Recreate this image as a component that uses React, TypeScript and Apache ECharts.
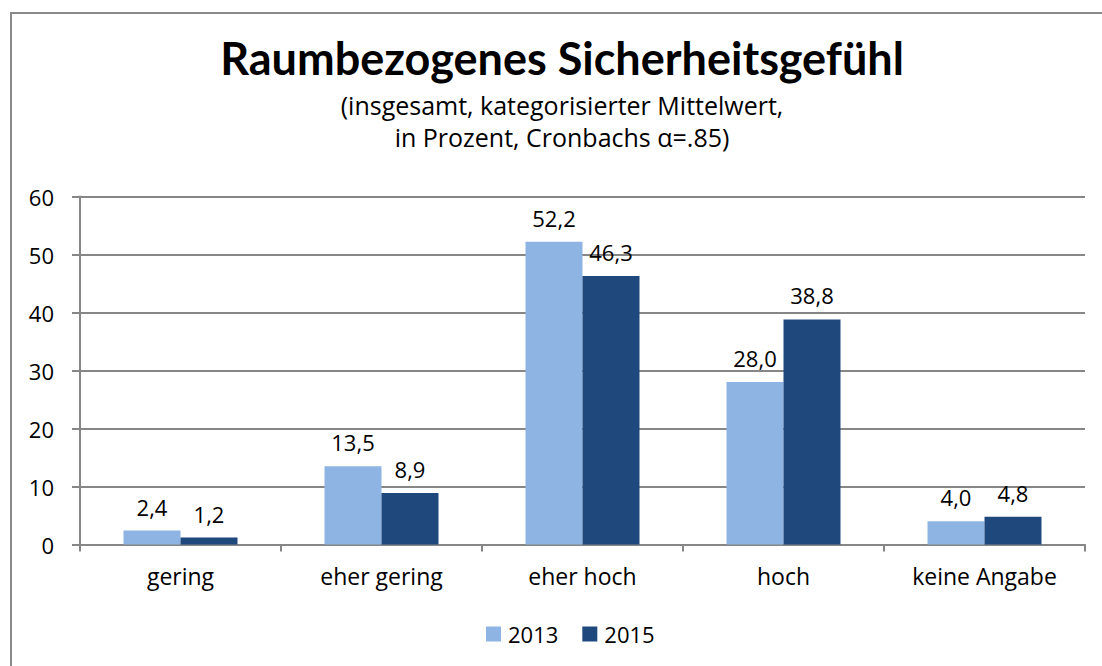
import React, { useEffect, useRef } from "react";
import * as echarts from "echarts";

const categories = ["gering", "eher gering", "eher hoch", "hoch", "keine Angabe"];
const values2013 = [2.4, 13.5, 52.2, 28.0, 4.0];
const values2015 = [1.2, 8.9, 46.3, 38.8, 4.8];
const seriesNames = ["2013", "2015"];
const titleText = "Raumbezogenes Sicherheitsgefühl";
const subText = "(insgesamt, kategorisierter Mittelwert,\nin Prozent, Cronbachs α=.85)";

const FONT = "'Open Sans', sans-serif";
const TITLE_FONT = "Lato, sans-serif";

export default function App() {
  const ref = useRef<HTMLDivElement>(null);
  useEffect(() => {
    if (!ref.current) return;
    const chart = echarts.init(ref.current, undefined, { renderer: "svg" });
    const fmt = (p: any) => Number(p.value).toFixed(1).replace(".", ",");
    const labelStyle = {
      show: true,
      position: "top",
      distance: 13,
      formatter: fmt,
      fontFamily: FONT,
      fontSize: 22,
      color: "#000",
    };
    chart.setOption({
      animation: false,
      backgroundColor: "#ffffff",
      textStyle: { fontFamily: FONT },
      title: [
        {
          text: titleText,
          left: 562,
          textAlign: "center",
          top: 35,
          padding: 0,
          textStyle: { fontFamily: TITLE_FONT, fontSize: 45, fontWeight: "bold", color: "#000", lineHeight: 46 },
        },
        {
          text: subText,
          left: 562,
          textAlign: "center",
          top: 89,
          padding: 0,
          textStyle: { fontFamily: FONT, fontSize: 25, fontWeight: "normal", color: "#000", lineHeight: 32 },
        },
      ],
      graphic: [
        {
          type: "rect",
          shape: { x: 11, y: 13, width: 1200, height: 800 },
          style: { fill: "none", stroke: "#8a8a8a", lineWidth: 2 },
          silent: true,
        },
      ],
      legend: {
        data: seriesNames,
        bottom: 16,
        left: 481,
        itemWidth: 15,
        itemHeight: 15,
        itemGap: 24,
        icon: "rect",
        textStyle: { fontFamily: FONT, fontSize: 22, color: "#000", padding: [0, 0, 0, 2] },
      },
      grid: { left: 80, right: 17, top: 196.5, bottom: 121.5 },
      xAxis: {
        type: "category",
        data: categories,
        axisLine: { lineStyle: { color: "#868686", width: 2 } },
        axisTick: { show: true, length: 7, lineStyle: { color: "#868686", width: 2 } },
        axisLabel: { fontFamily: FONT, fontSize: 23, color: "#000", margin: 20 },
      },
      yAxis: {
        type: "value",
        min: 0,
        max: 60,
        interval: 10,
        axisLine: { show: true, lineStyle: { color: "#868686", width: 2 } },
        axisTick: { show: true, length: 8, lineStyle: { color: "#868686", width: 2 } },
        splitLine: { lineStyle: { color: "#868686", width: 2 } },
        axisLabel: { fontFamily: FONT, fontSize: 22, color: "#000", margin: 26 },
      },
      series: [
        {
          name: seriesNames[0],
          type: "bar",
          data: values2013,
          barWidth: 57,
          barGap: "0%",
          itemStyle: { color: "#8EB4E3" },
          label: labelStyle,
        },
        {
          name: seriesNames[1],
          type: "bar",
          data: values2015,
          barWidth: 57,
          barGap: "0%",
          itemStyle: { color: "#1F497D" },
          label: labelStyle,
        },
      ],
    });
    return () => chart.dispose();
  }, []);
  return (
    <div
      ref={ref}
      style={{ position: "fixed", left: 0, top: 0, width: 1102, height: 666, background: "#fff" }}
    />
  );
}
